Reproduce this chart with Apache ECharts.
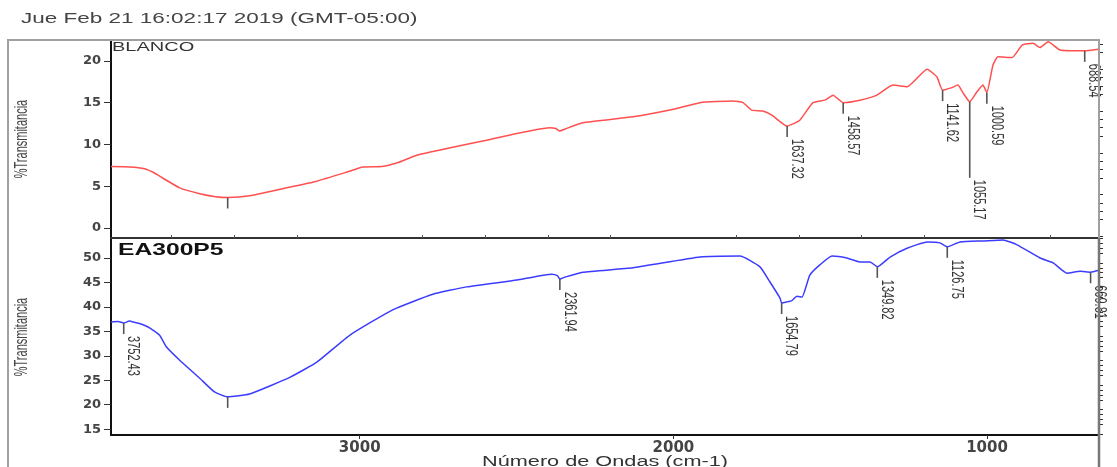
<!DOCTYPE html>
<html>
<head>
<meta charset="utf-8">
<script src="https://cdn.jsdelivr.net/npm/echarts@6/dist/echarts.min.js"></script>
<style>
  html, body { margin: 0; padding: 0; background: #fff; }
  #chart { width: 1117px; height: 467px; }
</style>
</head>
<body>
<div id="chart"></div>
<script>
// IR spectra: [wavenumber (cm-1), %Transmitancia]
const blanco = [
  [3793, 7.35], [3734, 7.3], [3686, 7.1], [3660, 6.7], [3638, 6.2], [3574, 4.8],
  [3510, 4.1], [3460, 3.75], [3421, 3.65], [3351, 3.85], [3246, 4.7], [3137, 5.6],
  [3040, 6.7], [2990, 7.3], [2930, 7.35], [2880, 7.8], [2818, 8.7], [2608, 10.4],
  [2394, 12.0], [2375, 11.9], [2362, 11.6], [2345, 11.85], [2289, 12.6], [2129, 13.3],
  [2000, 14.2], [1915, 15.0], [1810, 15.2], [1778, 15.0], [1750, 14.1], [1715, 14.0],
  [1686, 13.5], [1637.32, 12.2], [1597, 12.9], [1555, 15.0], [1517, 15.3], [1491, 15.9],
  [1458.57, 15.0], [1405, 15.3], [1351, 15.9], [1300, 17.1], [1255, 16.9], [1191, 19.0],
  [1160, 18.1], [1141.62, 16.5], [1112, 16.8], [1093, 17.1], [1077, 16.2], [1055.17, 15.1],
  [1032, 16.3], [1013, 17.1], [1000.59, 16.2], [981, 19.5], [965, 20.5], [920, 20.4],
  [888, 21.9], [853, 22.1], [831, 21.6], [805, 22.3], [767, 21.3], [694, 21.2],
  [688.54, 21.2], [646, 21.4]
];

const ea300p5 = [
  [3793, 36.9], [3770, 37.0], [3752.43, 36.7], [3735, 37.1], [3715, 36.8], [3702, 36.6],
  [3685, 36.2], [3670, 35.7], [3638, 34.2], [3616, 31.8], [3574, 29.1], [3510, 25.4],
  [3463, 22.6], [3421, 21.6], [3351, 22.2], [3223, 25.6], [3137, 28.7], [3032, 34.2],
  [2895, 39.4], [2767, 42.6], [2659, 44.1], [2499, 45.5], [2388, 46.7], [2370, 46.4],
  [2361.94, 45.7], [2346, 46.1], [2289, 47.1], [2129, 48.0], [1915, 50.2], [1788, 50.4],
  [1724, 48.2], [1692, 45.1], [1660, 41.8], [1654.79, 40.8], [1640, 41.0], [1622, 41.3],
  [1606, 42.2], [1590, 42.0], [1565, 46.5], [1533, 48.6], [1494, 50.4], [1447, 50.0],
  [1405, 49.2], [1373, 49.2], [1349.82, 48.2], [1309, 50.2], [1255, 52.0], [1191, 53.3],
  [1150, 53.1], [1126.75, 52.3], [1086, 53.3], [1013, 53.5], [949, 53.7], [904, 52.7],
  [831, 50.0], [789, 49.0], [745, 46.9], [703, 47.3], [669.81, 47.1], [643, 47.5]
];

// labelled peaks [wavenumber, %T] and unlabelled peak marks
const blancoPeaks = [[1637.32, 12.2], [1458.57, 15.0], [1141.62, 16.5], [1055.17, 15.1], [1000.59, 16.2], [688.54, 21.2]];
const blancoMarks = [[3421, 3.65]];
const eaPeaks = [[3752.43, 36.7], [2361.94, 45.7], [1654.79, 40.8], [1349.82, 48.2], [1126.75, 52.3], [669.81, 47.1]];
const eaMarks = [[3421, 21.6]];

// axis ticks
const xTickLabels = [3000, 2000, 1000];
const xMinorTicks = [800, 1200, 1400, 1600, 1800, 2200, 2400, 2600, 2800, 3200, 3400, 3600];
const yTopLabels = [0, 5, 10, 15, 20];
const yTopMinor = [-1, 1, 2, 3, 4, 6, 7, 8, 9, 11, 12, 13, 14, 16, 17, 18, 19, 21, 22];
const yBotLabels = [15, 20, 25, 30, 35, 40, 45, 50];
const yBotMinor = [14, 16, 17, 18, 19, 21, 22, 23, 24, 26, 27, 28, 29, 31, 32, 33, 34,
                   36, 37, 38, 39, 41, 42, 43, 44, 46, 47, 48, 49, 51, 52, 53, 54];

const TEXT_FONT = '"Liberation Sans", Arial, sans-serif';
const AXIS_FONT = '"DejaVu Sans", sans-serif';

// marker stem lengths in px (default short stem)
const stemLength = { '1055.17': 76 };

function peakSeries(data, labelled, xi, yi) {
  return {
    type: 'custom',
    coordinateSystem: 'cartesian2d',
    xAxisIndex: xi,
    yAxisIndex: yi,
    silent: true,
    clip: false,
    z: 5,
    data: data,
    renderItem: function (params, api) {
      const w = api.value(0);
      const t = api.value(1);
      const p = api.coord([w, t]);
      const key = w.toFixed(2);
      const len = stemLength[key] || 11;
      const children = [{
        type: 'line',
        shape: { x1: p[0], y1: p[1], x2: p[0], y2: p[1] + len },
        style: { stroke: '#555', lineWidth: 1.6 }
      }];
      if (labelled) {
        // vertical label reading downward, starting just under the stem
        children.push({
          type: 'text',
          x: p[0] + 1,
          y: p[1] + len + 2,
          rotation: -Math.PI / 2,
          scaleY: 1.5,
          style: {
            text: key,
            fill: '#333',
            font: '11px ' + TEXT_FONT,
            align: 'left',
            verticalAlign: 'bottom'
          }
        });
      }
      return { type: 'group', children: children };
    }
  };
}

function valueX(grid, opts) {
  return Object.assign({
    type: 'value', gridIndex: grid, inverse: true, min: 643, max: 3793,
    splitLine: { show: false }, axisLabel: { show: false },
    axisTick: { show: false }, axisLine: { show: false }
  }, opts);
}

const chart = echarts.init(document.getElementById('chart'), null, { renderer: 'canvas' });

chart.setOption({
  animation: false,
  backgroundColor: '#fff',
  grid: [
    { left: 111, right: 18, top: 40, height: 198, outerBoundsMode: 'none' },
    { left: 111, right: 18, top: 238, height: 197, outerBoundsMode: 'none' }
  ],
  xAxis: [
    valueX(0, { axisLine: { show: true, onZero: false, lineStyle: { color: '#333', width: 2 } } }),
    valueX(1, {
      axisLine: { show: true, onZero: false, lineStyle: { color: '#111', width: 2 } },
      axisTick: { show: true, customValues: xTickLabels, length: 4, lineStyle: { color: '#333' } },
      axisLabel: {
        show: true, customValues: xTickLabels, margin: 6,
        formatter: function (v) { return String(v); },
        color: '#444', fontFamily: AXIS_FONT, fontWeight: 'bold', fontSize: 15
      }
    }),
    valueX(1, {
      axisTick: { show: true, customValues: xMinorTicks, length: 3, lineStyle: { color: '#555' } }
    })
  ],
  yAxis: [
    {
      type: 'value', gridIndex: 0, min: -1.2, max: 22.5, offset: 0,
      splitLine: { show: false },
      axisLine: { show: true, onZero: false, lineStyle: { color: '#111', width: 2 } },
      axisTick: { show: true, customValues: yTopLabels, length: 7, lineStyle: { color: '#333' } },
      axisLabel: {
        customValues: yTopLabels, margin: 10,
        color: '#444', fontFamily: AXIS_FONT, fontWeight: 'bold', fontSize: 13
      }
    },
    {
      type: 'value', gridIndex: 0, min: -1.2, max: 22.5, offset: 0,
      splitLine: { show: false }, axisLine: { show: false }, axisLabel: { show: false },
      axisTick: { show: true, customValues: yTopMinor, length: 4, lineStyle: { color: '#333' } }
    },
    {
      type: 'value', gridIndex: 1, min: 13.8, max: 54.1, offset: 0,
      splitLine: { show: false },
      axisLine: { show: true, onZero: false, lineStyle: { color: '#111', width: 2 } },
      axisTick: { show: true, customValues: yBotLabels, length: 7, lineStyle: { color: '#333' } },
      axisLabel: {
        customValues: yBotLabels, margin: 10,
        color: '#444', fontFamily: AXIS_FONT, fontWeight: 'bold', fontSize: 13
      }
    },
    {
      type: 'value', gridIndex: 1, min: 13.8, max: 54.1, offset: 0,
      splitLine: { show: false }, axisLine: { show: false }, axisLabel: { show: false },
      axisTick: { show: true, customValues: yBotMinor, length: 4, lineStyle: { color: '#333' } }
    }
  ],
  series: [
    {
      name: 'BLANCO', type: 'line', xAxisIndex: 0, yAxisIndex: 0,
      data: blanco, showSymbol: false, smooth: 0.15, silent: true,
      lineStyle: { color: '#ff5050', width: 1.5 }
    },
    {
      name: 'EA300P5', type: 'line', xAxisIndex: 1, yAxisIndex: 2,
      data: ea300p5, showSymbol: false, smooth: 0.15, silent: true,
      lineStyle: { color: '#3c3cff', width: 1.5 }
    },
    peakSeries(blancoPeaks, true, 0, 0),
    peakSeries(blancoMarks, false, 0, 0),
    peakSeries(eaPeaks, true, 1, 2),
    peakSeries(eaMarks, false, 1, 2)
  ],
  graphic: [
    {
      type: 'polyline', silent: true, z: 10,
      shape: { points: [[8, 467], [8, 40], [1099, 40], [1099, 238]] },
      style: { stroke: '#a0a0a0', lineWidth: 2, fill: null }
    },
    {
      type: 'line', silent: true, z: 10,
      shape: { x1: 1099, y1: 238, x2: 1099, y2: 467 },
      style: { stroke: '#777', lineWidth: 2.5 }
    },
    {
      type: 'text', x: 21, y: 19, scaleX: 1.5, silent: true,
      style: { text: 'Jue Feb 21 16:02:17 2019 (GMT-05:00)', fill: '#444',
               font: '15px ' + TEXT_FONT, align: 'left', verticalAlign: 'middle' }
    },
    {
      type: 'text', x: 112, y: 48, scaleX: 1.6, silent: true, z: 10,
      style: { text: 'BLANCO', fill: '#333', font: '12.5px ' + TEXT_FONT,
               align: 'left', verticalAlign: 'middle' }
    },
    {
      type: 'text', x: 118, y: 250, scaleX: 1.45, silent: true, z: 10,
      style: { text: 'EA300P5', fill: '#111', font: 'bold 17px ' + TEXT_FONT,
               align: 'left', verticalAlign: 'middle' }
    },
    {
      type: 'text', x: 22, y: 139, rotation: Math.PI / 2, scaleY: 1.7, silent: true,
      style: { text: '%Transmitancia', fill: '#444', font: '11px ' + TEXT_FONT,
               align: 'center', verticalAlign: 'middle' }
    },
    {
      type: 'text', x: 22, y: 337, rotation: Math.PI / 2, scaleY: 1.7, silent: true,
      style: { text: '%Transmitancia', fill: '#444', font: '11px ' + TEXT_FONT,
               align: 'center', verticalAlign: 'middle' }
    },
    {
      type: 'text', x: 605, y: 455, scaleX: 1.55, silent: true,
      style: { text: 'Número de Ondas (cm-1)', fill: '#333', font: '14px ' + TEXT_FONT,
               align: 'center', verticalAlign: 'top' }
    }
  ]
});
</script>
</body>
</html>
